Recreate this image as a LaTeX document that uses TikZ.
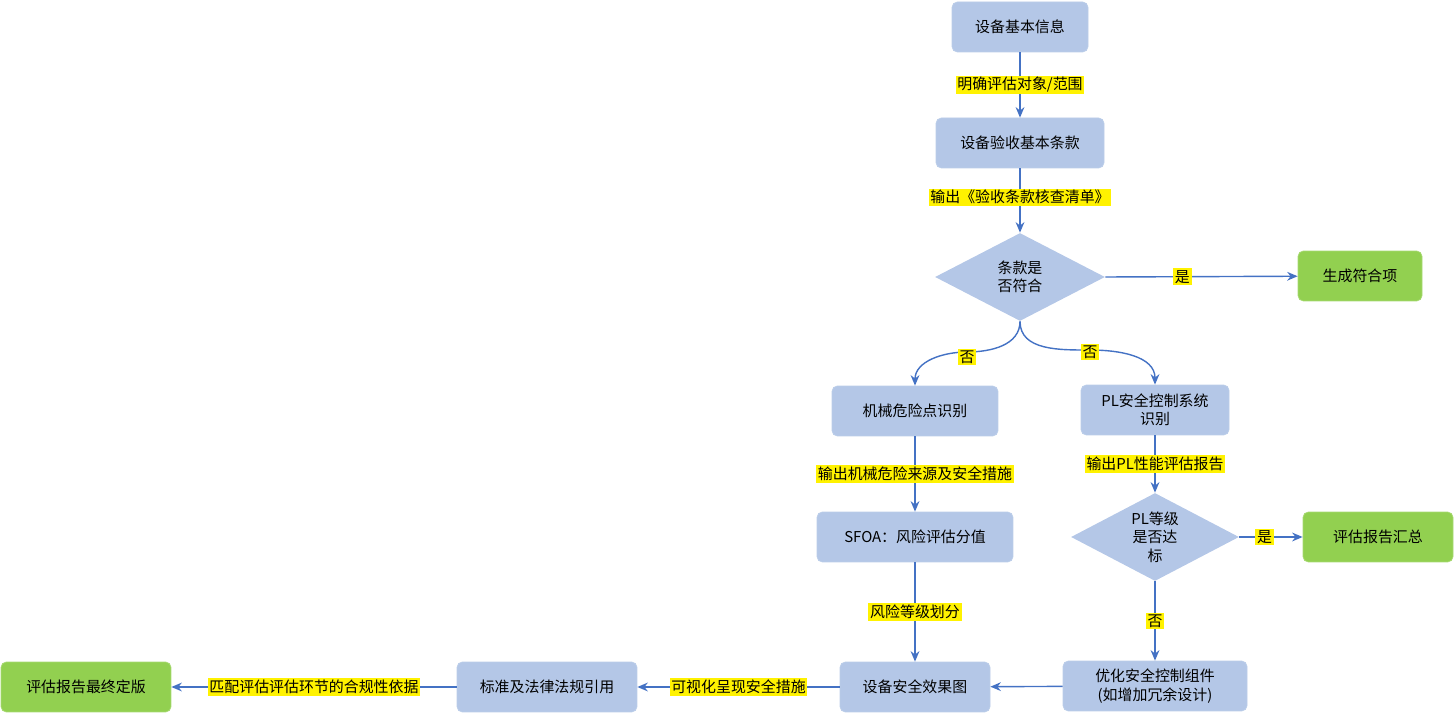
\documentclass[tikz,border=0pt]{standalone}
\usepackage{fontspec}
\setmainfont{Noto Sans CJK SC}
\usetikzlibrary{shapes.geometric,arrows.meta}
\definecolor{nb}{HTML}{B4C7E7}
\definecolor{ng}{HTML}{92D050}
\definecolor{ln}{HTML}{4472C4}
\begin{document}
\begin{tikzpicture}[x=0.02cm,y=-0.02cm,font=\fontsize{8.5}{10.5}\selectfont,
 box/.style={rectangle,rounded corners=3pt,fill=nb,draw=nb!90!white,minimum height=1cm,align=center,inner sep=1pt},
 gbox/.style={box,fill=ng,draw=ng!80!white},
 dia/.style={diamond,fill=nb,aspect=1.93,inner sep=0pt,align=center},
 lab/.style={fill=yellow,inner sep=1pt},
 arr/.style={draw=ln,line width=0.8pt,-{Stealth[length=6pt,width=5pt]}}]
\useasboundingbox (0,0) rectangle (1456,715);
\node[box,minimum width=2.72cm] (n1) at (1020,27) {设备基本信息};
\node[box,minimum width=3.36cm] (n2) at (1020,143) {设备验收基本条款};
\node[dia,minimum width=3.4cm,minimum height=1.76cm] (d1) at (1020,277) {条款是\\否符合};
\node[gbox,minimum width=2.48cm] (n3) at (1360,276) {生成符合项};
\node[box,minimum width=3.32cm] (n4) at (915,411) {机械危险点识别};
\node[box,minimum width=2.96cm] (n5) at (1155,410) {PL安全控制系统\\识别};
\node[box,minimum width=3.92cm] (n6) at (915,537) {SFOA：风险评估分值};
\node[dia,minimum width=3.36cm,minimum height=1.76cm] (d2) at (1155,537) {PL等级\\是否达\\标};
\node[gbox,minimum width=3cm] (n7) at (1378,537) {评估报告汇总};
\node[box,minimum width=3.68cm] (n8) at (1155,686) {优化安全控制组件\\(如增加冗余设计)};
\node[box,minimum width=3cm] (n9) at (915,687) {设备安全效果图};
\node[box,minimum width=3.6cm] (n10) at (547,687) {标准及法律法规引用};
\node[gbox,minimum width=3.4cm] (n11) at (86,687) {评估报告最终定版};
\draw[arr] (n1) -- (n2) node[pos=0.5,lab]{明确评估对象/范围};
\draw[arr] (n2) -- (d1.north) node[pos=0.45,lab]{输出《验收条款核查清单》};
\draw[arr] (d1.east) -- (n3) node[pos=0.4,lab]{是};
\draw[arr] (d1.south) to[out=270,in=0] coordinate (c1) (967,352) to[out=180,in=90] (n4.north);
\node[lab] (l1) at (967,357) {否};
\draw[arr] (d1.south) to[out=270,in=180] (1090,350) to[out=0,in=90] (n5.north);
\node[lab] (l2) at (1090,352) {否};
\draw[arr] (n4) -- (n6) node[pos=0.5,lab]{输出机械危险来源及安全措施};
\draw[arr] (n5) -- (d2.north) node[pos=0.5,lab]{输出PL性能评估报告};
\draw[arr] (d2.east) -- (n7) node[pos=0.4,lab]{是};
\draw[arr] (d2.south) -- (n8) node[pos=0.5,lab]{否};
\draw[arr] (n6) -- (n9) node[pos=0.5,lab]{风险等级划分};
\draw[arr] (n8) -- (n9);
\draw[arr] (n9) -- (n10) node[pos=0.5,lab]{可视化呈现安全措施};
\draw[arr] (n10) -- (n11) node[pos=0.5,lab]{匹配评估评估环节的合规性依据};
\end{tikzpicture}
\end{document}
